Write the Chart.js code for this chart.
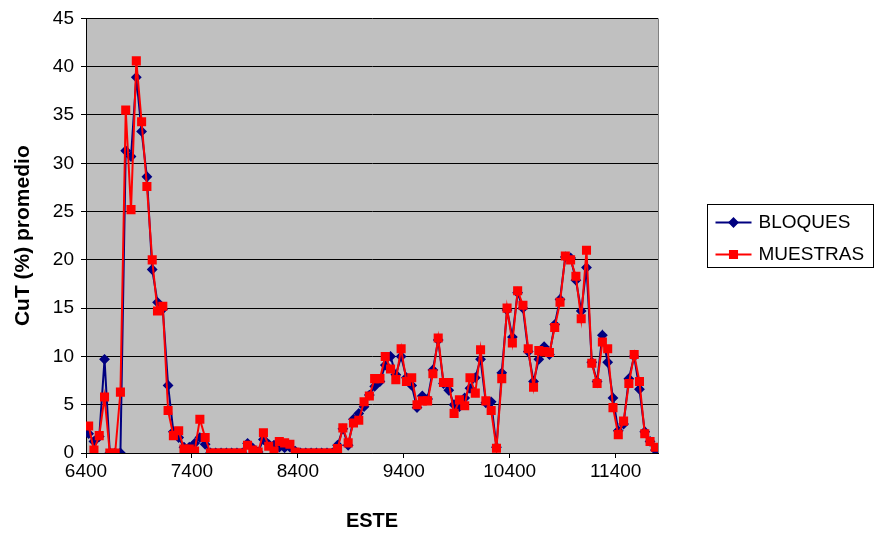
<!DOCTYPE html>
<html>
<head>
<meta charset="utf-8">
<title>CuT promedio por ESTE</title>
<script src="https://cdn.jsdelivr.net/npm/chart.js@4.4.1/dist/chart.umd.min.js"></script>
<style>
  body { margin: 0; background: #fff; }
  #wrap { width: 875px; height: 533px; }
</style>
</head>
<body>
<div id="wrap"><canvas id="myChart" width="875" height="533"></canvas></div>
<script>
// coordenada ESTE (centro de cada tramo de 50 m)
const este = [
  6425, 6475, 6525, 6575, 6625, 6675, 6725, 6775, 6825, 6875,
  6925, 6975, 7025, 7075, 7125, 7175, 7225, 7275, 7325, 7375,
  7425, 7475, 7525, 7575, 7625, 7675, 7725, 7775, 7825, 7875,
  7925, 7975, 8025, 8075, 8125, 8175, 8225, 8275, 8325, 8375,
  8425, 8475, 8525, 8575, 8625, 8675, 8725, 8775, 8825, 8875,
  8925, 8975, 9025, 9075, 9125, 9175, 9225, 9275, 9325, 9375,
  9425, 9475, 9525, 9575, 9625, 9675, 9725, 9775, 9825, 9875,
  9925, 9975, 10025, 10075, 10125, 10175, 10225, 10275, 10325, 10375,
  10425, 10475, 10525, 10575, 10625, 10675, 10725, 10775, 10825, 10875,
  10925, 10975, 11025, 11075, 11125, 11175, 11225, 11275, 11325, 11375,
  11425, 11475, 11525, 11575, 11625, 11675, 11725, 11775
];

// CuT (%) promedio de los bloques
const bloques = [
  2.0, 1.2, 1.7, 9.7, 0, 0, 0, 31.3, 30.7, 38.9,
  33.3, 28.6, 19.0, 15.6, 14.9, 7.0, 2.2, 1.6, 0.6, 0.6,
  1.0, 1.6, 0.9, 0, 0, 0, 0, 0, 0, 0,
  1.0, 0.5, 0.1, 1.4, 0.9, 0.8, 0.6, 0.55, 0.6, 0.2,
  0, 0, 0, 0, 0, 0, 0, 0.8, 2.5, 0.8,
  3.5, 4.1, 4.8, 6.0, 6.9, 7.4, 9.1, 10.0, 8.1, 10.0,
  7.8, 7.0, 4.7, 5.9, 5.6, 8.6, 11.7, 7.2, 6.5, 5.0,
  4.8, 5.7, 6.7, 7.8, 9.7, 5.2, 5.3, 0.6, 8.3, 14.8,
  12.0, 16.6, 15.0, 10.5, 7.4, 9.7, 11.0, 10.2, 13.3, 15.9,
  20.3, 20.2, 17.9, 14.7, 19.2, 9.4, 7.4, 12.2, 9.4, 5.7,
  2.3, 3.0, 7.7, 10.0, 6.6, 2.2, 1.2, 0.3
];

// CuT (%) promedio de las muestras
const muestras = [
  2.8, 0.3, 1.8, 5.8, 0, 0, 6.3, 35.5, 25.2, 40.6,
  34.3, 27.6, 20.0, 14.7, 15.2, 4.4, 1.8, 2.3, 0.4, 0.4,
  0.2, 3.5, 1.6, 0, 0, 0, 0, 0, 0, 0,
  0.8, 0.3, 0.1, 2.1, 0.7, 0.2, 1.2, 1.05, 0.9, 0.1,
  0, 0, 0, 0, 0, 0, 0, 0.45, 2.6, 1.05,
  3.1, 3.4, 5.3, 5.9, 7.7, 7.7, 10.0, 8.7, 7.6, 10.8,
  7.4, 7.8, 5.0, 5.4, 5.4, 8.2, 11.9, 7.3, 7.3, 4.1,
  5.5, 4.9, 7.8, 6.2, 10.7, 5.4, 4.4, 0.5, 7.7, 15.0,
  11.4, 16.8, 15.3, 10.8, 6.8, 10.6, 10.5, 10.4, 13.0, 15.6,
  20.4, 20.0, 18.3, 13.9, 21.0, 9.3, 7.2, 11.5, 10.8, 4.7,
  1.9, 3.3, 7.2, 10.2, 7.4, 2.0, 1.2, 0.6
];

const xMin = 6400, xMax = 11800, xStep = 1000;
const yMin = 0, yMax = 45, yStep = 5;

const FONT = '"Liberation Sans", Arial, sans-serif';

let ctx = document.getElementById('myChart').getContext('2d');

/**gray plot area */
const plotArea = {
  id: 'plotArea',
  beforeDraw(chart) {
    const {ctx, chartArea: a} = chart;
    ctx.save();
    ctx.fillStyle = '#c0c0c0';
    ctx.fillRect(a.left, a.top, a.right - a.left, a.bottom - a.top);
    ctx.strokeStyle = '#808080';
    ctx.lineWidth = 1;
    ctx.beginPath();
    ctx.moveTo(Math.round(a.right) + 0.5, a.top);
    ctx.lineTo(Math.round(a.right) + 0.5, a.bottom);
    ctx.stroke();
    ctx.restore();
  }
};

/**legend with border, line and marker */
const legendBox = {
  id: 'legendBox',
  afterDraw(chart) {
    const c = chart.ctx;
    const a = chart.chartArea;
    const bx = Math.round(a.right) + 49.5, by = 204.5, bw = 166, bh = 63;
    c.save();
    c.fillStyle = '#fff';
    c.fillRect(bx, by, bw, bh);
    c.strokeStyle = '#000';
    c.lineWidth = 1;
    c.strokeRect(bx, by, bw, bh);
    chart.data.datasets.forEach((ds, i) => {
      const ly = by + 18 + i * 32;
      const lx = bx + 8;
      c.strokeStyle = ds.borderColor;
      c.lineWidth = ds.borderWidth;
      c.beginPath();
      c.moveTo(lx, ly);
      c.lineTo(lx + 36, ly);
      c.stroke();
      c.fillStyle = ds.pointBackgroundColor;
      c.strokeStyle = ds.pointBorderColor;
      Chart.helpers.drawPoint(c, {
        pointStyle: ds.pointStyle,
        radius: ds.pointRadius,
        rotation: 0,
        borderWidth: 1
      }, lx + 18, ly);
      c.fillStyle = '#000';
      c.font = '19px ' + FONT;
      c.textBaseline = 'middle';
      c.textAlign = 'left';
      c.fillText(ds.label, lx + 43, ly);
    });
    c.restore();
  }
};

const data = {
  datasets: [{
    label: 'BLOQUES',
    data: este.map((x, i) => ({x: x, y: bloques[i]})),
    borderColor: '#000080',
    backgroundColor: '#000080',
    pointBackgroundColor: '#000080',
    pointBorderColor: '#000080',
    pointStyle: 'rectRot',
    pointRadius: 4,
    borderWidth: 2,
    order: 1
  }, {
    label: 'MUESTRAS',
    data: este.map((x, i) => ({x: x, y: muestras[i]})),
    borderColor: '#ff0000',
    backgroundColor: '#ff0000',
    pointBackgroundColor: '#ff0000',
    pointBorderColor: '#ff0000',
    pointStyle: 'rect',
    pointRadius: 5,
    borderWidth: 2,
    order: 0
  }]
};

const config = {
  type: 'line',
  data: data,
  plugins: [plotArea, legendBox],
  options: {
    responsive: false,
    animation: false,
    layout: {
      padding: {top: 18, right: 217, left: 0, bottom: 0}
    },
    plugins: {
      legend: {display: false},
      tooltip: {enabled: false}
    },
    elements: {
      line: {tension: 0},
      point: {borderWidth: 1}
    },
    scales: {
      x: {
        type: 'linear',
        min: xMin,
        max: xMax,
        afterFit(scale) { scale.height = 80; },
        // labelled ticks every 1000 m starting at 6400
        afterBuildTicks(scale) {
          const t = [];
          for (let v = xMin; v < xMax; v += xStep) t.push({value: v});
          scale.ticks = t;
        },
        ticks: {
          color: '#000',
          padding: 2,
          maxRotation: 0,
          autoSkip: false,
          font: {family: FONT, size: 19},
          callback: v => String(v)
        },
        grid: {
          drawOnChartArea: false,
          drawTicks: true,
          tickLength: 5,
          color: '#000'
        },
        border: {display: true, color: '#000', width: 1},
        title: {
          display: true,
          text: 'ESTE',
          color: '#000',
          padding: {top: 0, bottom: 0},
          font: {family: FONT, size: 20, weight: 'bold', lineHeight: 1.2}
        }
      },
      y: {
        min: yMin,
        max: yMax,
        afterFit(scale) { scale.width = 86; },
        ticks: {
          stepSize: yStep,
          color: '#000',
          padding: 7,
          font: {family: FONT, size: 19}
        },
        grid: {
          color: '#000',
          lineWidth: 1,
          tickLength: 5
        },
        border: {display: true, color: '#000', width: 1},
        title: {
          display: true,
          text: 'CuT (%) promedio',
          color: '#000',
          padding: {top: 11, bottom: 0},
          font: {family: FONT, size: 21, weight: 'bold', lineHeight: 1.2}
        }
      }
    }
  }
};

let chart = new Chart(ctx, config);
</script>
</body>
</html>
